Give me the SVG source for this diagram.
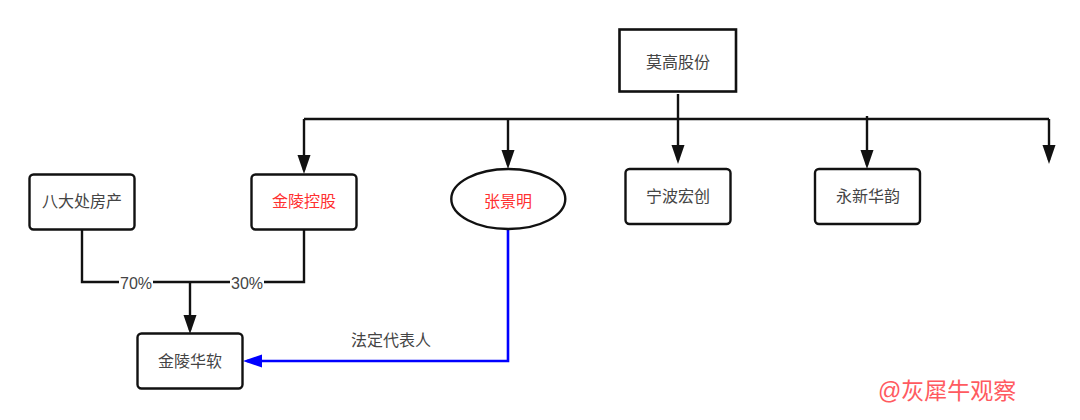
<svg xmlns="http://www.w3.org/2000/svg" width="1080" height="420" viewBox="0 0 1080 420">
<defs>
<style>
.box{fill:#fff;stroke:#111;stroke-width:2.4}
.t{font-family:"Liberation Sans","Noto Sans CJK SC",sans-serif;font-size:16px;fill:#444;text-anchor:middle}
.r{fill:#ff3030}
.c{fill:none;stroke:#111;stroke-width:2.4}
.b{fill:none;stroke:#0000ff;stroke-width:2.6}
.lb{fill:#fff;stroke:none}
</style>
<marker id="ah" markerUnits="userSpaceOnUse" markerWidth="20" markerHeight="14" refX="15" refY="6.500" orient="auto"><path d="M0 0L19 6.500L0 13Z" fill="#111"/></marker>
<marker id="bh" markerUnits="userSpaceOnUse" markerWidth="20" markerHeight="14" refX="15" refY="6.500" orient="auto"><path d="M0 0L19 6.500L0 13Z" fill="#0000ff"/></marker>
</defs>
<rect width="1080" height="420" fill="#fff"/>
<g id="connectors">
<path class="c" d="M304 119H1049"/>
<path class="c" d="M304 119V170" marker-end="url(#ah)"/>
<path class="c" d="M508 119V165" marker-end="url(#ah)"/>
<path class="c" d="M678 94V160" marker-end="url(#ah)"/>
<path class="c" d="M867 116V165" marker-end="url(#ah)"/>
<path class="c" d="M1049 119V160" marker-end="url(#ah)"/>
<path class="c" d="M82 229V282H304V229"/>
<path class="c" d="M190 282V330" marker-end="url(#ah)"/>
<path class="b" d="M508 229V361H247" marker-end="url(#bh)"/>
<rect class="lb" x="119" y="272" width="34" height="20"/>
<text class="t" x="136" y="289">70%</text>
<rect class="lb" x="230" y="272" width="34" height="20"/>
<text class="t" x="247" y="289">30%</text>
<text class="t" x="391" y="346">法定代表人</text>
</g>
<g id="n1"><rect class="box" x="619.500" y="29.500" width="116.500" height="62" style="stroke-width:2.600"/><text class="t" x="678" y="68">莫高股份</text></g>
<g id="n2"><rect class="box" x="29.500" y="174.500" width="105" height="55" rx="4"/><text class="t" x="82" y="207">八大处房产</text></g>
<g id="n3"><rect class="box" x="251.500" y="174.500" width="105" height="55" rx="4"/><text class="t r" x="304" y="207">金陵控股</text></g>
<g id="n4"><ellipse class="box" cx="508.300" cy="199" rx="57" ry="30"/><text class="t r" x="508" y="207">张景明</text></g>
<g id="n5"><rect class="box" x="625.500" y="169" width="105" height="55" rx="4"/><text class="t" x="678" y="202">宁波宏创</text></g>
<g id="n6"><rect class="box" x="815" y="169" width="105" height="55" rx="4"/><text class="t" x="868" y="202">永新华韵</text></g>
<g id="n7"><rect class="box" x="137.500" y="333.500" width="105" height="55" rx="4"/><text class="t" x="190" y="367">金陵华软</text></g>
<text x="878" y="399" style="font-family:'Liberation Sans','Noto Sans CJK SC',sans-serif;font-size:23px;fill:#ff5a60">@灰犀牛观察</text>
</svg>
